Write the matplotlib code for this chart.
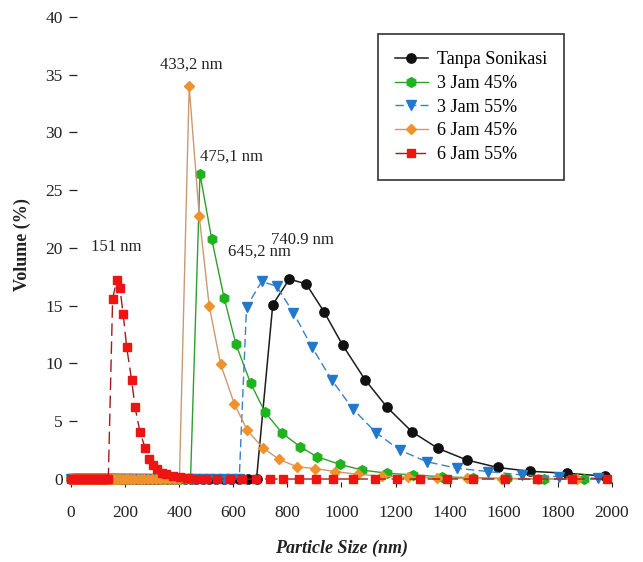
import matplotlib
matplotlib.use("Agg")
import matplotlib.pyplot as plt

# --- data (particle size in nm, volume in %) ---
# dense bins near zero, shared by all series (all at 0 %)
band_x = [0, 6, 12, 18, 24, 30, 36, 42, 48, 54, 60, 66, 72, 78, 84, 90,
          96, 102, 108, 114, 120, 126, 132, 138]
# further empty bins before each distribution starts
zero_x = [143, 150, 158, 166, 174, 183, 192, 202, 212, 223, 234, 246, 258,
          271, 285, 299, 314, 330, 347, 364, 382, 401, 421, 442, 464, 487,
          511, 537, 564, 592, 622, 653, 686]

black_x = [746, 807, 869, 935, 1004, 1087, 1169, 1260, 1356, 1463, 1577,
           1697, 1832, 1975]
black_y = [15.1, 17.3, 16.9, 14.5, 11.6, 8.6, 6.2, 4.1, 2.66, 1.65, 1.0,
           0.67, 0.5, 0.25]

green_x = [477, 520, 566, 610, 664, 717, 781, 847, 909, 994, 1075, 1169,
           1265, 1370, 1486, 1612, 1749, 1898]
green_y = [26.4, 20.8, 15.7, 11.66, 8.3, 5.8, 3.96, 2.8, 1.93, 1.27, 0.78,
           0.5, 0.35, 0.2, 0.1, 0.05, 0.02, 0.0]

blue_x = [649, 705, 760, 822, 890, 964, 1041, 1128, 1216, 1315, 1426, 1541,
          1666, 1805, 1949]
blue_y = [14.9, 17.1, 16.7, 14.4, 11.45, 8.57, 6.1, 4.0, 2.5, 1.5, 0.93,
          0.65, 0.35, 0.2, 0.06]

orange_x = [437, 474, 511, 553, 604, 652, 711, 770, 834, 902, 976, 1062,
            1149, 1247, 1354, 1463, 1592, 1726, 1871]
orange_y = [34.0, 22.8, 15.0, 9.96, 6.5, 4.2, 2.66, 1.7, 1.07, 0.9, 0.65,
            0.4, 0.25, 0.15, 0.1, 0.05, 0.03, 0.01, 0.0]

red_x = [154, 169, 181, 193, 206, 224, 237, 255, 274, 289, 304, 319, 335,
         353, 377, 403, 431, 465, 500, 540, 588, 634, 684, 734, 784, 843,
         905, 970, 1044, 1124, 1204, 1290, 1389, 1487, 1604, 1722, 1851, 1980]
red_y = [15.6, 17.2, 16.5, 14.3, 11.4, 8.6, 6.2, 4.1, 2.7, 1.7, 1.2, 0.84,
         0.55, 0.4, 0.3, 0.2, 0.1, 0, 0, 0, 0, 0, 0, 0, 0, 0, 0, 0, 0, 0, 0,
         0, 0, 0, 0, 0, 0, 0]

labels = ["Tanpa Sonikasi", "3 Jam 45%", "3 Jam 55%", "6 Jam 45%", "6 Jam 55%"]
peak_text = ["740.9 nm", "475,1 nm", "645,2 nm", "433,2 nm", "151 nm"]
peak_pos = [(854, 20.7), (595, 27.9), (695, 19.7), (444, 35.9), (166, 20.1)]

xticks = [0, 200, 400, 600, 800, 1000, 1200, 1400, 1600, 1800, 2000]
yticks = [0, 5, 10, 15, 20, 25, 30, 35, 40]


def full(xs, ys, start):
    zx = band_x + [v for v in zero_x if v < start]
    return zx + xs, [0] * len(zx) + ys


plt.rcParams["font.family"] = ["Liberation Serif", "DejaVu Serif"]

fig = plt.figure(figsize=(6.43, 5.62), dpi=100)
ax = fig.add_axes([0.107, 0.1415, 0.8616, 0.8386])

styles = [
    (black_x, black_y, dict(color="#1c1c1c", ls="-", lw=1.1, marker="o",
                            mfc="#111111", mec="#111111", ms=6.7)),
    (green_x, green_y, dict(color="#2f9e2f", ls="-", lw=1.0, marker="h",
                            mfc="#1fb31f", mec="#1fb31f", ms=7)),
    (blue_x, blue_y, dict(color="#3a80c4", ls=(0, (6, 3)), lw=1.0, marker="v",
                          mfc="#2378cc", mec="#2378cc", ms=7)),
    (orange_x, orange_y, dict(color="#c99a72", ls="-", lw=1.0, marker="D",
                              mfc="#f0922b", mec="#f0922b", ms=5.6)),
    (red_x, red_y, dict(color="#9e1c1c", ls=(0, (9, 4)), lw=1.0, marker="s",
                        mfc="#ee1414", mec="#ee1414", ms=6)),
]

handles = []
for (xs, ys, kw), lab in zip(styles, labels):
    fx, fy = full(xs, ys, xs[0] - 20)
    h, = ax.plot(fx, fy, label=lab, clip_on=False, **kw)
    handles.append(h)

for txt, (px, py) in zip(peak_text, peak_pos):
    ax.text(px, py, txt, ha="center", va="center", fontsize=12, color="#222222")

ax.set_xlim(-8, 2040)
ax.set_ylim(-0.3, 40.5)
ax.set_xticks(xticks)
ax.set_yticks(yticks)
for s in ax.spines.values():
    s.set_visible(False)
ax.tick_params(axis="y", direction="in", length=6, width=0.9, pad=4.5,
               labelsize=12.5, colors="#222222")
ax.tick_params(axis="x", direction="out", length=3.5, width=0.8, pad=13,
               labelsize=12.5, colors="#222222")

fig.text(22 / 643, 1 - 245 / 562, "Volume (%)", rotation=90, ha="center",
         va="center", fontsize=13, fontweight="bold", color="#222222")
fig.text(342 / 643, 1 - 548 / 562, "Particle Size (nm)", ha="center",
         va="center", fontsize=13, fontweight="bold", fontstyle="italic",
         color="#222222")

leg = ax.legend(handles=handles, loc="upper left",
                bbox_to_anchor=(378 / 643, 1 - 34 / 562),
                bbox_transform=fig.transFigure, borderaxespad=0,
                fontsize=13, frameon=True, fancybox=False, framealpha=1,
                edgecolor="#333333", borderpad=0.95, labelspacing=0.37,
                handlelength=1.8, handletextpad=0.5)
leg.get_frame().set_linewidth(1.2)

fig.savefig("out.png", dpi=100)
